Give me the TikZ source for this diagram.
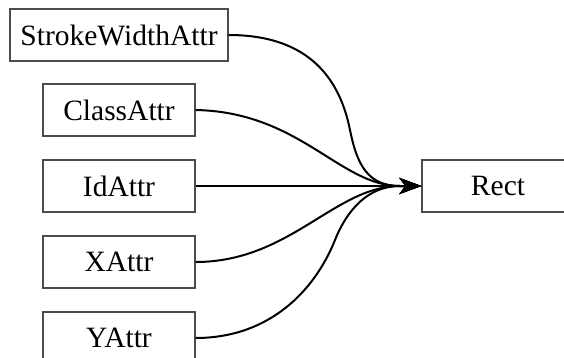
\documentclass[tikz,border=0pt]{standalone}
\usepackage{fontspec}
\setmainfont{Liberation Serif}
\usetikzlibrary{arrows.meta}
\begin{document}
\begin{tikzpicture}[x=1pt,y=-1pt,
  attrbox/.style={draw=black!70, line width=1.2pt, minimum width=152pt,
    minimum height=52pt, inner sep=0pt, font=\fontsize{29.5}{31}\selectfont},
  wire/.style={line width=2pt, -{Stealth[length=22pt,width=16pt,inset=6pt]}}]
\useasboundingbox (0,0) rectangle (564,358);
\node[attrbox, minimum width=218pt] (sw) at (119,35) {StrokeWidthAttr};
\node[attrbox] (cls) at (119,110) {ClassAttr};
\node[attrbox] (id) at (119,186) {IdAttr};
\node[attrbox] (x) at (119,262) {XAttr};
\node[attrbox] (y) at (119,338) {YAttr};
\node[attrbox] (rect) at (498,186) {Rect};
\draw[wire] (sw.east) .. controls (310,35) and (340,80) .. (350,130)
  .. controls (357,165) and (368,186) .. (400,186) -- (rect.west);
\draw[wire] (cls.east) .. controls (300,112) and (340,186) .. (400,186) -- (rect.west);
\draw[wire] (id.east) -- (rect.west);
\draw[wire] (x.east) .. controls (290,262) and (335,186) .. (400,186) -- (rect.west);
\draw[wire] (y.east) .. controls (270,338) and (315,290) .. (335,240)
  .. controls (347,210) and (368,186) .. (400,186) -- (rect.west);
\end{tikzpicture}
\end{document}
